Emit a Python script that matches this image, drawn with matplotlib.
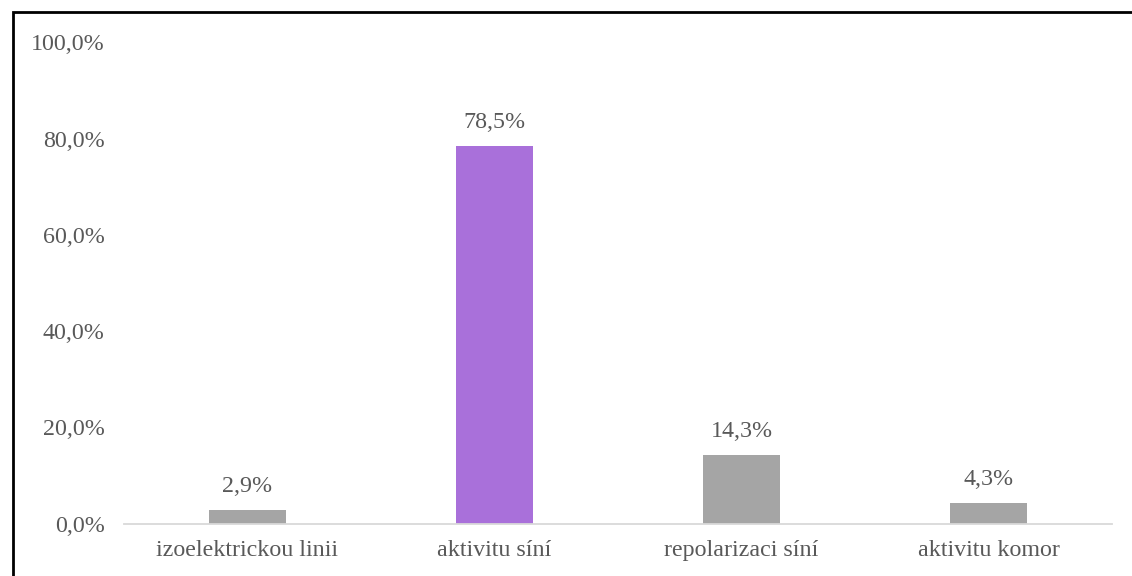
import matplotlib
matplotlib.use("Agg")
import matplotlib.pyplot as plt
from matplotlib.patches import Rectangle

categories = ["izoelektrickou linii", "aktivitu síní", "repolarizaci síní", "aktivitu komor"]
values = [2.9, 78.5, 14.3, 4.3]
colors = ["#A5A5A5", "#A970DA", "#A5A5A5", "#A5A5A5"]
yticks = [0, 20, 40, 60, 80, 100]

plt.rcParams["font.family"] = ["Liberation Serif", "DejaVu Serif"]
text_color = "#595959"
fs = 17.3

fig = plt.figure(figsize=(11.32, 5.76), dpi=100)
ax = fig.add_axes([124 / 1132, 1 - 523.5 / 576, (1112 - 124) / 1132, (523.5 - 42.5) / 576])

x = range(len(categories))
bars = ax.bar(x, values, width=0.31, color=colors, zorder=2)
ax.set_xlim(-0.5, len(categories) - 0.5)
ax.set_ylim(0, 100)

for rect, v in zip(bars, values):
    ax.annotate(f"{v:.1f}%".replace(".", ","),
                xy=(rect.get_x() + rect.get_width() / 2, v),
                xytext=(0, 9), textcoords="offset points",
                ha="center", va="bottom", fontsize=fs, color=text_color)

ax.set_yticks(yticks)
ax.set_yticklabels([f"{t:.1f}%".replace(".", ",") for t in yticks])
ax.set_xticks(list(x))
ax.set_xticklabels(categories)
ax.tick_params(axis="both", length=0, labelsize=fs, labelcolor=text_color)
ax.tick_params(axis="y", pad=14)
ax.tick_params(axis="x", pad=12)

for s in ["top", "right", "left"]:
    ax.spines[s].set_visible(False)
ax.spines["bottom"].set_color("#D9D9D9")
ax.spines["bottom"].set_linewidth(1.3)

# outer frame around the chart area
fig.patches.append(Rectangle((12.5 / 1132, -0.05), 1.2, 1 - 12.5 / 576 + 0.05,
                             transform=fig.transFigure, fill=False,
                             edgecolor="black", linewidth=2.0))

fig.savefig("out.png", dpi=100)
